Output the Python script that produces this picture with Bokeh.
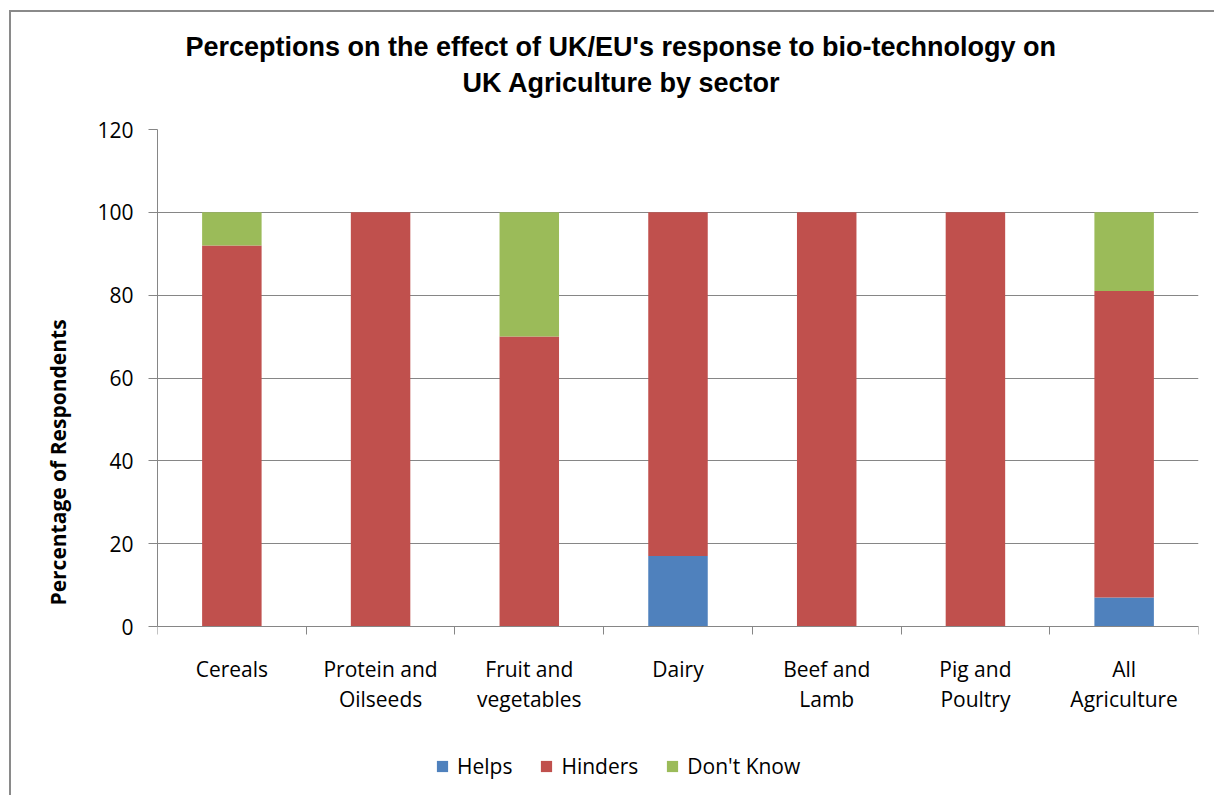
from bokeh.plotting import figure
from bokeh.models import Range1d, FixedTicker, Title, Legend, LegendItem
from bokeh.embed import file_html
from bokeh.resources import INLINE

categories = ["Cereals", "Protein and\nOilseeds", "Fruit and\nvegetables", "Dairy",
              "Beef and\nLamb", "Pig and\nPoultry", "All\nAgriculture"]
helps = [0, 0, 0, 17, 0, 0, 7]
hinders = [92, 100, 70, 83, 100, 100, 74]
dont_know = [8, 0, 30, 0, 0, 0, 19]
series_names = ["Helps", "Hinders", "Don't Know"]
colors = ["#4F81BD", "#C0504D", "#9BBB59"]
y_ticks = [0, 20, 40, 60, 80, 100, 120]
title_lines = ["Perceptions on the effect of UK/EU's response to bio-technology on",
               "UK Agriculture by sector"]

xs = [i + 0.5 for i in range(len(categories))]
data = dict(x=xs, helps=helps, hinders=hinders, dont_know=dont_know)

# plot area: 0..120 spans 497 px; extra room below 0 holds the tick labels and legend
px_per_unit = 497 / 120
y_low = -169 / px_per_unit

p = figure(frame_width=1041, frame_height=666, output_backend="svg",
           toolbar_location=None, title=None,
           x_range=Range1d(0, len(categories)), y_range=Range1d(y_low, 120),
           min_border_left=146, min_border_right=16, min_border_top=117,
           min_border_bottom=0)
p.outline_line_color = None
p.styles = {"margin-left": "9px", "margin-top": "10px",
            "border-left": "2px solid #8a8a8a", "border-top": "2px solid #8a8a8a"}

rs = p.vbar_stack(["helps", "hinders", "dont_know"], x="x", width=0.4, color=colors,
                  line_color=None, source=data)

font = "Open Sans"
# X axis, drawn at y = 0
xa = p.xaxis[0]
xa.fixed_location = 0
xa.ticker = FixedTicker(ticks=xs, minor_ticks=list(range(len(categories) + 1)))
xa.major_label_overrides = {x: c for x, c in zip(xs, categories)}
xa.major_tick_out = 0
xa.major_tick_in = 0
xa.minor_tick_out = 8
xa.minor_tick_in = 0
xa.minor_tick_line_color = "#868686"
xa.axis_line_color = "#868686"
xa.major_label_text_font = font
xa.major_label_text_font_size = "21px"
xa.major_label_text_color = "#000000"
xa.major_label_text_line_height = 1.1
xa.major_label_standoff = 20

# Y axis
ya = p.yaxis[0]
ya.bounds = (0, 120)
ya.ticker = FixedTicker(ticks=y_ticks, minor_ticks=[])
ya.major_tick_out = 9
ya.major_tick_in = 0
ya.major_tick_line_color = "#868686"
ya.axis_line_color = "#868686"
ya.major_label_text_font = font
ya.major_label_text_font_size = "21px"
ya.major_label_text_color = "#000000"
ya.major_label_standoff = 15
ya.axis_label = "Percentage of Respondents"
ya.axis_label_text_font = font
ya.axis_label_text_font_style = "bold"
ya.axis_label_text_font_size = "21px"
ya.axis_label_text_color = "#000000"
ya.axis_label_standoff = 22

p.xgrid.grid_line_color = None
p.ygrid.grid_line_color = "#868686"
p.ygrid.ticker = FixedTicker(ticks=y_ticks)

# Title lines (second line added first: closest to the frame)
for txt, off, so in [(title_lines[1], 305, 63), (title_lines[0], 28, -55)]:
    p.add_layout(Title(text=txt, align="left", offset=off, standoff=so,
                       text_font="Liberation Sans", text_font_style="bold",
                       text_font_size="27px", text_color="#000000"), "above")

legend = Legend(items=[LegendItem(label=n, renderers=[r]) for n, r in zip(series_names, rs)],
                orientation="horizontal", location=(278, 15))
legend.label_text_font = font
legend.label_text_font_size = "21px"
legend.label_text_color = "#000000"
legend.glyph_width = 14
legend.glyph_height = 14
legend.label_standoff = 8
legend.spacing = 27
legend.padding = 0
legend.margin = 0
legend.border_line_color = None
legend.background_fill_alpha = 0
p.add_layout(legend, "center")

open("out.html", "w").write(file_html(p, INLINE))
